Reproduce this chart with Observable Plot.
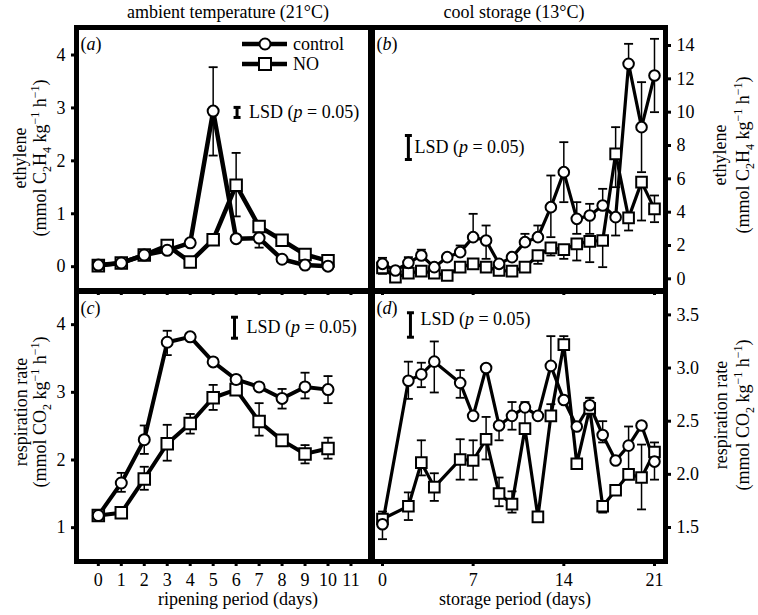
<!DOCTYPE html>
<html><head><meta charset="utf-8">
<script src="https://cdn.jsdelivr.net/npm/d3@7"></script>
<script src="https://cdn.jsdelivr.net/npm/@observablehq/plot@0.6"></script>
<style>
body{margin:0;background:#fff;}
#wrap{position:relative;width:758px;height:615px;font-family:'Liberation Serif',serif;}
#wrap svg{position:absolute;left:0;top:0;}
#wrap text{font-family:'Liberation Serif',serif;}
</style></head><body><div id="wrap"></div>
<script>
// ---------- data ----------
const daysA = [0,1,2,3,4,5,6,7,8,9,10];
const ethCtrlA   = [0.03,0.07,0.22,0.31,0.45,2.94,0.53,0.54,0.14,0.03,0.01];
const ethNoA     = [0.02,0.07,0.22,0.40,0.09,0.51,1.54,0.76,0.50,0.23,0.11];
const ethCtrlAHi = [null,null,null,null,null,3.77,null,null,null,null,null];
const ethCtrlALo = [null,null,null,null,null,2.10,null,0.36,null,null,null];
const ethNoAHi   = [null,null,null,null,null,null,2.15,null,null,null,null];
const ethNoALo   = [null,null,null,null,null,null,0.95,null,null,null,null];

const respCtrlC   = [1.18,1.66,2.30,3.74,3.82,3.45,3.19,3.08,2.91,3.08,3.04];
const respNoC     = [1.18,1.22,1.72,2.24,2.54,2.92,3.04,2.57,2.29,2.09,2.17];
const respCtrlCHi = [null,1.81,2.51,3.91,null,null,null,null,3.05,3.29,3.24];
const respCtrlCLo = [null,1.53,2.09,3.55,null,null,null,null,2.76,2.91,2.84];
const respNoCHi   = [null,null,1.90,2.52,2.68,3.11,null,2.84,null,2.22,2.33];
const respNoCLo   = [null,null,1.56,1.99,2.39,2.74,null,2.36,null,1.95,2.02];

const daysB = [0,1,2,3,4,5,6,7,8,9,10,11,12,13,14,15,16,17,18,19,20,21];
const ethCtrlB   = [0.9,0.5,0.96,1.4,0.7,1.3,1.6,2.5,2.3,0.9,1.3,2.2,2.5,4.3,6.4,3.6,3.8,4.4,3.7,12.9,9.1,12.2];
const ethNoB     = [0.65,0.1,0.34,0.46,0.34,0.2,0.7,0.9,0.7,0.5,0.46,0.7,1.4,1.86,1.75,2.1,2.25,2.3,7.5,3.66,5.8,4.2];
const ethCtrlBHi = [1.26,null,1.3,1.75,null,null,2.0,3.9,3.2,null,null,2.7,3.2,6.2,8.2,4.6,4.5,5.4,null,14.1,11.8,14.4];
const ethCtrlBLo = [0.3,null,null,null,null,null,null,null,1.2,null,null,null,null,2.5,4.6,2.7,2.7,null,2.6,null,6.4,10.0];
const ethNoBHi   = [null,null,null,null,null,null,null,null,null,null,null,null,null,null,null,null,null,null,9.1,null,null,5.0];
const ethNoBLo   = [null,null,null,null,null,null,null,null,null,null,null,null,0.9,1.4,1.2,1.1,1.0,0.7,5.5,2.9,3.5,3.4];

const daysD = [0,2,3,4,6,7,8,9,10,11,12,13,14,15,16,17,18,19,20,21];
const respCtrlD   = [1.53,2.88,2.94,3.06,2.86,2.55,3.0,2.46,2.55,2.63,2.55,3.02,2.70,2.45,2.65,2.37,2.13,2.27,2.46,2.12];
const respNoD     = [1.58,1.70,2.11,1.88,2.14,2.13,2.33,1.82,1.72,2.43,1.60,2.55,3.22,2.10,2.62,1.70,1.85,2.00,1.97,2.21];
const respCtrlDHi = [1.65,3.06,3.05,3.25,2.98,null,3.03,null,2.68,2.68,null,3.30,null,null,2.72,2.50,null,2.45,null,null];
const respCtrlDLo = [1.39,2.71,2.82,2.77,2.72,null,null,2.32,2.42,null,null,null,null,null,null,2.30,null,null,null,1.95];
const respNoDHi   = [null,1.83,2.32,2.01,2.33,2.32,2.54,1.97,1.84,2.66,null,2.66,3.30,null,2.72,null,null,2.26,2.28,2.30];
const respNoDLo   = [null,1.57,1.99,1.75,1.95,1.95,2.14,1.70,1.64,null,null,null,null,null,null,1.64,null,null,1.67,null];

// LSD bars (value ranges)
const lsdA = [{x:6.04, lo:2.82, hi:3.01}];
const lsdB = [{x:2.0,  lo:7.16, hi:8.6}];
const lsdC = [{x:5.93, lo:3.80, hi:4.11}];
const lsdD = [{x:2.16, lo:3.29, hi:3.52}];

const ticksA = [0,1,2,3,4,5,6,7,8,9,10,11];
const ticksB = [0,7,14,21];
const yTicksA = [0,1,2,3,4];
const yTicksB = [0,2,4,6,8,10,12,14];
const yTicksC = [1,2,3,4];
const yTicksD = [1.5,2.0,2.5,3.0,3.5];

// ---------- drawing ----------
const FONT = "Liberation Serif";
const W = 758, H = 615;
const cap = {draw(ctx, size){ const h = Math.sqrt(size/Math.PI); ctx.moveTo(-h,0); ctx.lineTo(h,0); }};
const LSDTEXT = "LSD (p = 0.05)";

function rows(days, v, hi, lo){ return days.map((d,i)=>({x:d, v:v[i], hi:hi[i], lo:lo[i]})); }
function errs(r){
  const up = r.filter(d=>d.hi!=null), dn = r.filter(d=>d.lo!=null);
  return [
    Plot.ruleX(up,{x:"x",y1:"v",y2:"hi",stroke:"black",strokeWidth:1.5}),
    Plot.ruleX(dn,{x:"x",y1:"v",y2:"lo",stroke:"black",strokeWidth:1.5}),
    Plot.dot(up,{x:"x",y:"hi",symbol:cap,r:4.5,fill:"none",stroke:"black",strokeWidth:1.8}),
    Plot.dot(dn,{x:"x",y:"lo",symbol:cap,r:4.5,fill:"none",stroke:"black",strokeWidth:1.8})
  ];
}

function panel(o){
  const c = rows(o.days, o.ctrl, o.ctrlHi, o.ctrlLo);
  const n = rows(o.days, o.no, o.noHi, o.noLo);
  const marks = [
    Plot.frame({stroke:"black", strokeWidth:5}),
    Plot.axisY(o.yTicks, {anchor:o.yAnchor, tickSize:5, tickPadding:6, strokeWidth:3, label:null,
      tickFormat:o.yFmt, fontSize:18}),
    Plot.axisX(o.xTicks, {anchor:"bottom", tickSize:5, tickPadding:7, strokeWidth:3, label:null,
      tickFormat: o.xLabels ? (d=>String(d)) : (()=>""), fontSize:18}),
    Plot.line(n, {x:"x", y:"v", stroke:"black", strokeWidth:o.lw}),
    Plot.line(c, {x:"x", y:"v", stroke:"black", strokeWidth:o.lw}),
    ...errs(n), ...errs(c),
    Plot.dot(n, {x:"x", y:"v", symbol:"square", r:o.sq, fill:"white", stroke:"black", strokeWidth:2}),
    Plot.dot(c, {x:"x", y:"v", r:o.cr, fill:"white", stroke:"black", strokeWidth:2}),
    Plot.ruleX(o.lsd, {x:"x", y1:"lo", y2:"hi", stroke:"black", strokeWidth:3}),
    Plot.dot(o.lsd, {x:"x", y:"lo", symbol:cap, r:3.5, fill:"none", stroke:"black", strokeWidth:3}),
    Plot.dot(o.lsd, {x:"x", y:"hi", symbol:cap, r:3.5, fill:"none", stroke:"black", strokeWidth:3}),
    Plot.text(o.lsd, {x:"x", y:d=>(d.lo+d.hi)/2, text:()=>LSDTEXT, textAnchor:"start", dx:o.lsdDx, dy:o.lsdDy||0, fontSize:18}),
    Plot.text([o.tag], {frameAnchor:"top-left", dx:4, dy:10, fontSize:18})
  ];
  const svg = Plot.plot({
    width:W, height:H,
    marginLeft:o.m[0], marginRight:o.m[1], marginTop:o.m[2], marginBottom:o.m[3],
    x:{domain:o.xDomain}, y:{domain:o.yDomain},
    style:{fontSize:"18px", background:"none", color:"black", overflow:"visible"},
    marks
  });
  svg.setAttribute("font-family", FONT);
  d3.select(svg).selectAll("text").each(function(){
    const t = this.textContent, s = d3.select(this);
    if (t === LSDTEXT){
      s.text(null);
      s.append("tspan").text("LSD (");
      s.append("tspan").attr("font-style","italic").text("p");
      s.append("tspan").text(" = 0.05)");
    } else if (/^\([a-d]\)$/.test(t)){
      s.text(null);
      s.append("tspan").text("(");
      s.append("tspan").attr("font-style","italic").text(t[1]);
      s.append("tspan").text(")");
    }
  });
  return svg;
}

const wrap = document.getElementById("wrap");
const fmt1 = d3.format(".1f");

wrap.appendChild(panel({days:daysA, ctrl:ethCtrlA, no:ethNoA, ctrlHi:ethCtrlAHi, ctrlLo:ethCtrlALo, noHi:ethNoAHi, noLo:ethNoALo,
  xDomain:[-0.95,11.85], yDomain:[-0.45,4.52], m:[76,388,27,325], xTicks:ticksA, yTicks:yTicksA, yAnchor:"left",
  yFmt:d=>String(d), xLabels:false, lw:4.5, cr:5.5, sq:6.5, lsd:lsdA, lsdDx:12, tag:"(a)"}));
wrap.appendChild(panel({days:daysB, ctrl:ethCtrlB, no:ethNoB, ctrlHi:ethCtrlBHi, ctrlLo:ethCtrlBLo, noHi:ethNoBHi, noLo:ethNoBLo,
  xDomain:[-0.77,21.85], yDomain:[-0.7,15.08], m:[372,93,27,325], xTicks:ticksB, yTicks:yTicksB, yAnchor:"right",
  yFmt:d=>String(d), xLabels:false, lw:3.2, cr:5.3, sq:6, lsd:lsdB, lsdDx:6, tag:"(b)"}));
wrap.appendChild(panel({days:daysA, ctrl:respCtrlC, no:respNoC, ctrlHi:respCtrlCHi, ctrlLo:respCtrlCLo, noHi:respNoCHi, noLo:respNoCLo,
  xDomain:[-0.95,11.85], yDomain:[0.5,4.49], m:[76,388,291,54], xTicks:ticksA, yTicks:yTicksC, yAnchor:"left",
  yFmt:d=>String(d), xLabels:true, lw:4, cr:5.5, sq:6.5, lsd:lsdC, lsdDx:12, tag:"(c)"}));
wrap.appendChild(panel({days:daysD, ctrl:respCtrlD, no:respNoD, ctrlHi:respCtrlDHi, ctrlLo:respCtrlDLo, noHi:respNoDHi, noLo:respNoDLo,
  xDomain:[-0.77,21.85], yDomain:[1.18,3.72], m:[372,93,291,54], xTicks:ticksB, yTicks:yTicksD, yAnchor:"right",
  yFmt:fmt1, xLabels:true, lw:3.2, cr:5.3, sq:6, lsd:lsdD, lsdDx:10, lsdDy:-6, tag:"(d)"}));

// ---------- overlay: titles, axis titles, legend ----------
const ov = d3.create("svg").attr("width",W).attr("height",H)
  .attr("font-family",FONT).attr("font-size",18).style("overflow","visible");
function txt(x,y,s,anchor="middle"){ return ov.append("text").attr("x",x).attr("y",y).attr("text-anchor",anchor).text(s); }
txt(228,18,"ambient temperature (21°C)");
txt(514,18,"cool storage (13°C)");
txt(238,605,"ripening period (days)");
txt(515,605,"storage period (days)");

function richLine(g, parts){
  const t = g.append("text").attr("text-anchor","middle");
  let shift = 0;
  parts.forEach(([s,k])=>{
    const target = k==="sub"?5:k==="sup"?-7:0;
    const sp = t.append("tspan").attr("dy", target-shift).text(s);
    if (k) sp.attr("font-size","12px");
    shift = target;
  });
}
function ytitle(cy, line1, chem, x1, x2){
  const g1 = ov.append("g").attr("transform",`translate(${x1},${cy}) rotate(-90)`);
  g1.append("text").attr("text-anchor","middle").text(line1);
  const g2 = ov.append("g").attr("transform",`translate(${x2},${cy}) rotate(-90)`);
  richLine(g2, chem);
}
const chemEth = [["(mmol C"],["2","sub"],["H"],["4","sub"],[" kg"],["−1","sup"],[" h"],["−1","sup"],[")"]];
const chemCO2 = [["(mmol CO"],["2","sub"],[" kg"],["−1","sup"],[" h"],["−1","sup"],[")"]];
ytitle(158,"ethylene",chemEth,26,46);
ytitle(412,"respiration rate",chemCO2,27,46);
ytitle(155,"ethylene",chemEth,726,749);
ytitle(415,"respiration rate",chemCO2,727,749);

// legend
ov.append("line").attr("x1",242).attr("x2",287).attr("y1",44).attr("y2",44).attr("stroke","black").attr("stroke-width",4.5);
ov.append("circle").attr("cx",265).attr("cy",44).attr("r",5.5).attr("fill","white").attr("stroke","black").attr("stroke-width",2);
txt(293,50,"control","start");
ov.append("line").attr("x1",242).attr("x2",287).attr("y1",64).attr("y2",64).attr("stroke","black").attr("stroke-width",4.5);
ov.append("rect").attr("x",259).attr("y",58).attr("width",12).attr("height",12).attr("fill","white").attr("stroke","black").attr("stroke-width",2);
txt(293,70,"NO","start");
wrap.appendChild(ov.node());
d3.selectAll("#wrap text").style("font-family","'Liberation Serif', serif");
</script></body></html>
